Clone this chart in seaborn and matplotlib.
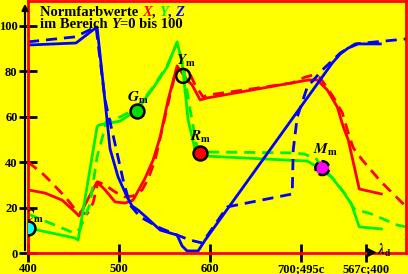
import numpy as np
import pandas as pd
import seaborn as sns
import matplotlib.pyplot as plt

# --- data (wavelength-like axis, values 0..100) ---
x_solid_X = [400, 418.7, 437.4, 451.6, 456.0, 475.8, 484.6, 495.6, 506.6, 515.4, 528.6, 537.4, 545.1,
             553.8, 563.7, 574.7, 580.2, 589.0, 596.7, 707.7, 717.6, 728.6, 739.6, 746.2, 751.6, 763.7, 787.9]
y_solid_X = [27.8, 26.4, 23.3, 18.1, 16.3, 31.3, 27.8, 22.5, 22.0, 23.3, 33.0, 41.0, 51.1,
             67.4, 82.4, 76.2, 74.0, 67.4, 68.3, 76.2, 76.2, 71.8, 64.3, 55.5, 49.8, 28.2, 26.0]
x_dash_X = [400, 416.5, 427.5, 442.9, 453.8, 464.8, 471.4, 476.9, 484.6, 495.6, 506.6, 515.4, 525.3,
            531.9, 539.6, 548.4, 556.0, 562.6, 575.8, 583.5, 592.3, 597.8, 652.7, 690.1, 704.4, 713.2,
            720.9, 735.2, 745.1, 751.6, 757.1, 767.0, 786.8, 808.8, 815.4]
y_dash_X = [40.1, 34.8, 30.4, 23.8, 18.1, 17.2, 22.0, 31.3, 30.0, 26.9, 24.7, 25.1, 27.8,
            32.6, 41.0, 56.4, 69.6, 80.6, 80.6, 74.0, 68.7, 69.6, 72.7, 74.9, 77.5, 78.4,
            77.1, 68.7, 61.7, 52.9, 46.3, 41.0, 31.7, 22.9, 20.3]

x_solid_Y = [400, 451.6, 455.0, 475.8, 478.0, 501.1, 519.8, 537.4, 552.7, 563.7, 569.2, 575.8, 583.5,
             594.5, 706.6, 717.6, 733.0, 746.2, 755.0, 763.7, 787.9]
y_solid_Y = [11.0, 6.6, 5.7, 55.5, 56.4, 58.1, 63.0, 72.7, 81.9, 93.0, 83.7, 58.6, 45.4,
             42.7, 40.5, 37.9, 33.5, 26.9, 21.6, 11.5, 10.6]
x_dash_Y = [400, 450.5, 457.1, 468.1, 475.8, 482.4, 485.7, 501.1, 519.8, 537.4, 552.7, 563.7, 570.3,
            578.0, 585.7, 594.5, 689.0, 703.3, 716.5, 725.3, 736.3, 750.5, 758.2, 776.9, 805.5, 815.4]
y_dash_Y = [17.2, 8.8, 10.6, 21.6, 42.3, 52.0, 57.7, 59.9, 63.9, 73.1, 82.4, 92.5, 82.8,
            63.0, 46.3, 44.5, 44.1, 43.6, 41.4, 36.6, 32.2, 24.7, 19.4, 17.2, 12.3, 11.5]

x_solid_Z = [400, 452.7, 475.8, 486.8, 490.0, 498.9, 508.8, 514.3, 520.9, 530.8, 545.1, 556.0, 563.7,
             569.2, 574.7, 586.8, 594.5, 734.1, 742.9, 751.6, 762.6, 786.8]
y_solid_Z = [91.6, 92.5, 99.6, 58.6, 46.0, 33.5, 24.7, 20.7, 18.9, 15.4, 10.1, 8.8, 7.9,
             3.1, 0.9, 0.9, 5.7, 83.7, 87.7, 90.3, 92.1, 92.1]
x_dash_Z = [400, 451.6, 474.7, 484.6, 495.6, 504.4, 512.1, 523.1, 545.1, 563.7, 578.0, 591.2, 618.7,
            690.1, 691.2, 695.6, 706.6, 723.1, 742.9, 759.3, 815.4]
y_dash_Z = [93.0, 95.2, 99.6, 67.4, 48.0, 32.2, 21.1, 15.9, 11.0, 7.9, 5.7, 4.4, 20.3,
            26.0, 45.4, 59.9, 73.1, 80.6, 88.1, 92.1, 94.3]

point_names = ['G', 'Y', 'R', 'M', 'C']
point_x = [519.8, 570.3, 589.0, 723.1, 400.0]
point_y = [62.6, 78.0, 44.1, 37.4, 11.0]
point_face = ['#00e000', 'none', '#ff0000', '#ff00ff', '#00ffff']
label_x = [521, 574, 590, 727, 395]
label_y = [68.5, 84.5, 51, 45.5, 16]

tick_pos = [400, 500, 600, 700, 771]
tick_labels = ['400', '500', '600', '700;495c', '567c;400']
ytick_pos = [0, 20, 40, 60, 80, 100]

YEL = '#ffff00'
GRN = '#00f000'
plt.rcParams['font.family'] = 'Liberation Serif'
plt.rcParams['font.weight'] = 'bold'
plt.rcParams['mathtext.fontset'] = 'stix'

fig = plt.figure(figsize=(4.08, 2.74), dpi=100, facecolor=YEL)
ax = fig.add_axes([28 / 408, 21 / 274, 378 / 408, 252 / 274], facecolor=YEL)

curves = [
    (x_solid_X, y_solid_X, '#ff0000', '-'), (x_dash_X, y_dash_X, '#ff0000', '--'),
    (x_solid_Y, y_solid_Y, GRN, '-'), (x_dash_Y, y_dash_Y, GRN, '--'),
    (x_solid_Z, y_solid_Z, '#0000ff', '-'), (x_dash_Z, y_dash_Z, '#0000ff', '--'),
]
for xs, ys, col, ls in curves:
    df = pd.DataFrame({'x': xs, 'y': ys})
    line = sns.lineplot(data=df, x='x', y='y', sort=False, estimator=None, color=col, lw=2, ax=ax)
    if ls == '--':
        line.lines[-1].set_dashes((4, 2.5))

for i in range(len(point_names)):
    ax.scatter(point_x[i], point_y[i], s=100, facecolor=point_face[i], edgecolor='black',
               linewidth=1.8, zorder=5, linestyle='--' if point_names[i] == 'M' else '-')
    ha = 'left' if point_names[i] == 'C' else 'center'
    ax.text(label_x[i], label_y[i], r'$\mathbfit{%s}_\mathbf{m}$' % point_names[i], fontsize=11,
            ha=ha, va='center', zorder=6, clip_on=True)

ax.set_xlim(400, 815)
ax.set_ylim(0, 111)
ax.set_xticks(tick_pos, tick_labels)
ax.set_yticks(ytick_pos)
ax.set_xlabel('')
ax.set_ylabel('')
ax.tick_params(direction='inout', length=13, width=2, color='black', labelsize=9, pad=1)
for s in ax.spines.values():
    s.set_color('#ff0000')
    s.set_linewidth(2)
ax.annotate('', xy=(-0.008, 1.0), xytext=(-0.008, 0), xycoords='axes fraction',
            arrowprops=dict(arrowstyle='-|>', color='black', lw=1.5, mutation_scale=9))
ax.scatter([777], [0.6], marker='>', s=30, color='black', zorder=6, clip_on=False)
ax.text(791, 1.2, r'$\mathbfit{\lambda}_\mathbf{d}$', fontsize=10, ha='center', va='center')

# title in coloured runs
fig.canvas.draw()
rend = fig.canvas.get_renderer()


def runs(x_px, base_px, parts):
    x = x_px
    for s, col, style in parts:
        t = fig.text(x / 408, 1 - base_px / 274, s, color=col, fontstyle=style, fontsize=10.5,
                     fontweight='bold', va='baseline', ha='left')
        x += t.get_window_extent(rend).width


runs(40, 16, [('Normfarbwerte ', 'black', 'normal'), ('X', '#ff0000', 'italic'), (', ', 'black', 'normal'),
              ('Y', GRN, 'italic'), (', ', 'black', 'normal'), ('Z', '#0000ff', 'italic')])
runs(40, 28, [('im Bereich ', 'black', 'normal'), ('Y', 'black', 'italic'), ('=0 bis 100', 'black', 'normal')])

fig.savefig('out.png', dpi=100, facecolor=YEL)
